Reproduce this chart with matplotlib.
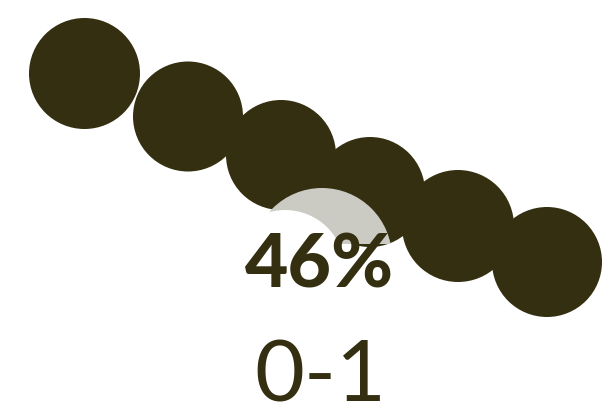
import matplotlib
matplotlib.use("Agg")
import matplotlib.pyplot as plt
from matplotlib.patches import Circle, Rectangle

# chain of result circles (chart units, y grows downward)
step_x = [84.5, 188, 281, 370, 458, 547]
step_y = [73.5, 116.5, 155, 192, 226, 262]
step_r = [55.5, 55, 55, 55, 56, 55]

# highlighted share circle behind the label
share_x = 322
share_y = 258
share_r = 70
share_pct = 46
score_label = "0-1"

DARK = "#332f10"
GREY = "#cbcbc4"

fig = plt.figure(figsize=(6.16, 4.18), dpi=100)
ax = fig.add_axes([0, 0, 1, 1])
ax.set_xlim(0, 616)
ax.set_ylim(418, 0)
ax.set_aspect("equal")
ax.axis("off")

for x, y, r in zip(step_x, step_y, step_r):
    ax.add_patch(Circle((x, y), r, color=DARK, lw=0, zorder=1))

# grey share circle sits over the chain, cut off above the label
clip = Rectangle((0, 0), 616, 244, transform=ax.transData)
share = Circle((share_x, share_y), share_r, color=GREY, lw=0, zorder=2)
ax.add_patch(share)
share.set_clip_path(clip)
# white disc that eats the lower-left part of the grey one
ax.add_patch(Circle((share_x - 37, share_y + 12), 60, color="white", lw=0, zorder=3))

ax.text(320, 287, f"{share_pct}%", ha="center", va="baseline", fontsize=54,
        fontweight="black", family="Lato", color=DARK, zorder=5)
ax.text(320, 402, score_label, ha="center", va="baseline", fontsize=62,
        fontweight="normal", family="Lato", color=DARK, zorder=5)

fig.savefig("out.png", dpi=100, facecolor="white")
